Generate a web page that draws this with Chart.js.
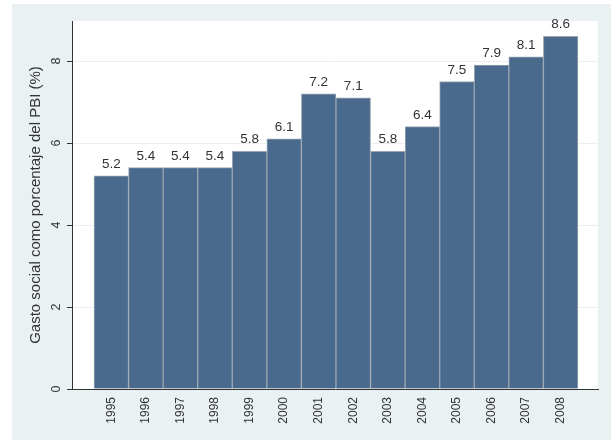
<!DOCTYPE html>
<html>
<head>
<meta charset="utf-8">
<script src="https://cdn.jsdelivr.net/npm/chart.js@4/dist/chart.umd.min.js"></script>
<style>
html,body{margin:0;padding:0;background:#fff;}
#wrap{width:611px;height:440px;position:relative;}
</style>
</head>
<body>
<div id="wrap"><canvas id="c" width="611" height="440"></canvas></div>
<script>
const categories = ['1995','1996','1997','1998','1999','2000','2001','2002','2003','2004','2005','2006','2007','2008'];
const values = [5.2, 5.4, 5.4, 5.4, 5.8, 6.1, 7.2, 7.1, 5.8, 6.4, 7.5, 7.9, 8.1, 8.6];
const yTicks = [0, 2, 4, 6, 8];
const yTitle = 'Gasto social como porcentaje del PBI (%)';

const FONT = '"Liberation Sans", Arial, sans-serif';

const bgPlugin = {
  id: 'bg',
  beforeDraw(chart) {
    const ctx = chart.ctx, a = chart.chartArea;
    ctx.save();
    ctx.fillStyle = '#ffffff';
    ctx.fillRect(0, 0, chart.width, chart.height);
    ctx.fillStyle = '#eaf1f3';
    ctx.fillRect(12, 4, chart.width - 12, chart.height - 4);
    ctx.fillStyle = '#ffffff';
    ctx.fillRect(a.left, a.top, a.right - a.left, a.bottom - a.top);
    ctx.restore();
  }
};

const textPlugin = {
  id: 'texts',
  afterDatasetsDraw(chart) {
    const ctx = chart.ctx;
    const meta = chart.getDatasetMeta(0);
    ctx.save();
    ctx.fillStyle = '#333333';
    ctx.font = '13.5px ' + FONT;
    ctx.textAlign = 'center';
    ctx.textBaseline = 'alphabetic';
    meta.data.forEach((bar, i) => {
      ctx.fillText(values[i].toFixed(1), bar.x, bar.y - 8);
    });
    ctx.restore();
  },
  afterDraw(chart) {
    const ctx = chart.ctx;
    const ys = chart.scales.y;
    ctx.save();
    ctx.fillStyle = '#333333';
    ctx.font = '12.5px ' + FONT;
    ctx.textAlign = 'center';
    ctx.textBaseline = 'middle';
    yTicks.forEach(v => {
      const py = ys.getPixelForValue(v);
      ctx.save();
      ctx.translate(57, py);
      ctx.rotate(-Math.PI / 2);
      ctx.fillText(String(v), 0, 0);
      ctx.restore();
    });
    ctx.font = '15px ' + FONT;
    ctx.save();
    ctx.translate(36, (chart.chartArea.top + chart.chartArea.bottom) / 2);
    ctx.rotate(-Math.PI / 2);
    ctx.fillText(yTitle, 0, 0);
    ctx.restore();
    ctx.restore();
  }
};

new Chart(document.getElementById('c'), {
  type: 'bar',
  data: {
    datasets: [{
      data: values.map((v, i) => ({x: i, y: v})),
      backgroundColor: '#4a6a8d',
      borderColor: '#9aa6b2',
      borderWidth: 1,
      barPercentage: 1,
      categoryPercentage: 1
    }]
  },
  options: {
    responsive: false,
    animation: false,
    devicePixelRatio: 1,
    layout: {padding: {left: 0, top: 21, right: 13, bottom: 0}},
    plugins: {legend: {display: false}, tooltip: {enabled: false}},
    scales: {
      x: {
        type: 'linear',
        min: -1.136,
        max: 14.08,
        offset: false,
        afterFit(s) { s.height = 51; s.paddingLeft = 0; s.paddingRight = 0; },
        grid: {display: true, drawOnChartArea: false, drawTicks: false},
        border: {display: true, color: '#333333', width: 1},
        ticks: {
          stepSize: 1,
          includeBounds: false,
          autoSkip: false,
          minRotation: 90,
          maxRotation: 90,
          padding: 8,
          color: '#333333',
          font: {family: FONT, size: 12},
          callback: (v) => (Number.isInteger(v) && categories[v] !== undefined) ? categories[v] : ''
        }
      },
      y: {
        min: 0,
        max: 8.976,
        afterFit(s) { s.width = 72; s.paddingTop = 0; s.paddingBottom = 0; },
        grid: {
          color: (c) => c.tick && c.tick.value === 0 ? 'rgba(0,0,0,0)' : '#eaf0f2',
          tickColor: '#333333',
          tickLength: 5,
          lineWidth: 1
        },
        border: {display: true, color: '#333333', width: 1},
        afterBuildTicks(s) { s.ticks = yTicks.map(v => ({value: v})); },
        ticks: {
          color: 'rgba(0,0,0,0)',
          font: {family: FONT, size: 12},
          padding: 4
        }
      }
    }
  },
  plugins: [bgPlugin, textPlugin]
});
</script>
</body>
</html>
